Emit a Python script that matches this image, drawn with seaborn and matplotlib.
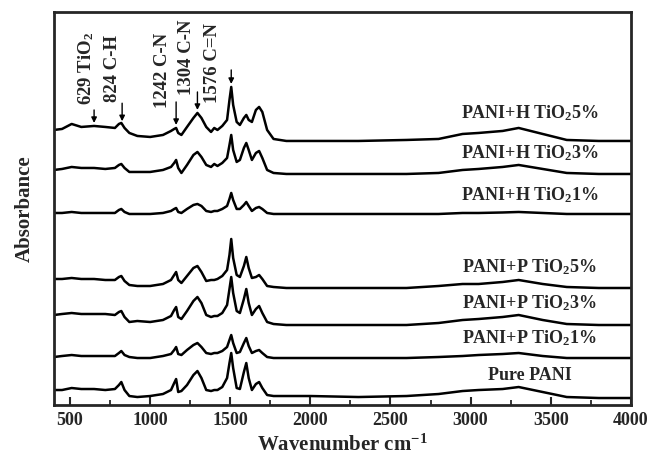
import numpy as np
import pandas as pd
import matplotlib
matplotlib.use("Agg")
import matplotlib.pyplot as plt
from matplotlib.ticker import MultipleLocator
import seaborn as sns

# wavenumber grid (cm-1)
wavenumber = [400, 450, 510, 570, 650, 720, 780, 805, 820, 840, 870, 920, 1000, 1080,
              1130, 1150, 1162, 1175, 1195, 1230, 1270, 1295, 1320, 1350, 1380, 1400,
              1420, 1450, 1480, 1495, 1506, 1518, 1540, 1560, 1585, 1600, 1615, 1635,
              1660, 1680, 1700, 1730, 1770, 1850, 2000, 2300, 2600, 2800, 2950, 3050,
              3200, 3300, 3450, 3600, 3800, 4000]

# absorbance of each sample above its own baseline (a.u. x100)
h_tio2_5 = [11, 12, 17, 14, 15, 14, 13, 17, 18, 13, 8, 5, 4, 6, 10, 12, 13, 8, 6, 14,
            23, 28, 23, 14, 9, 13, 11, 15, 21, 41, 54, 36, 19, 16, 23, 26, 21, 19, 31,
            34, 29, 11, 2, 0, 0, 0, 1, 2, 7, 8, 10, 13, 7, 1, 0, 0]
h_tio2_3 = [4, 5, 7, 6, 6, 5, 6, 9, 10, 6, 2, 2, 2, 4, 7, 11, 14, 6, 1, 9, 19, 22,
            17, 9, 7, 10, 8, 11, 16, 29, 39, 24, 12, 14, 26, 31, 24, 14, 21, 23, 16,
            4, 1, 0, 0, 0, 0, 1, 4, 5, 7, 9, 5, 1, 0, 0]
h_tio2_1 = [1, 1, 2, 1, 1, 1, 1, 4, 5, 2, 0, 0, 0, 1, 3, 5, 6, 2, 1, 5, 9, 10, 8, 3,
            2, 3, 3, 5, 8, 15, 21, 14, 5, 5, 9, 12, 8, 3, 6, 7, 5, 1, 0, 0, 0, 0, 0,
            0, 1, 1, 1.5, 2, 1, 0, 0, 0]
p_tio2_5 = [9, 9, 10, 9, 9, 8, 8, 11, 12, 7, 3, 2, 2, 4, 8, 13, 16, 8, 5, 12, 20, 22,
            16, 7, 8, 8, 9, 12, 18, 33, 49, 30, 13, 11, 22, 31, 20, 10, 11, 13, 9, 2,
            1, 0, 0, 0, 0, 2, 4, 4, 6, 8, 4, 1, 0, 0]
p_tio2_3 = [10, 11, 12, 11, 11, 11, 10, 13, 14, 8, 3, 4, 3, 5, 9, 15, 18, 8, 6, 14,
            24, 28, 22, 10, 8, 9, 9, 12, 20, 36, 48, 32, 14, 12, 26, 36, 22, 10, 16,
            19, 12, 3, 1, 0, 0, 0, 0, 2, 5, 6, 8, 10, 5, 1, 0, 0]
p_tio2_1 = [1, 2, 3, 2, 2, 2, 2, 5, 7, 3, 1, 0, 0, 2, 4, 8, 11, 4, 3, 8, 13, 15, 11,
            5, 4, 5, 5, 7, 11, 18, 23, 15, 5, 6, 15, 20, 12, 5, 7, 8, 5, 1, 0, 0, 0,
            0, 0, 1, 2, 3, 4, 5, 2, 0, 0, 0]
pure_pani = [8, 8, 10, 9, 9, 8, 9, 13, 16, 8, 2, 1, 2, 4, 8, 15, 19, 6, 7, 13, 23,
             27, 20, 8, 7, 8, 8, 11, 20, 35, 45, 30, 10, 9, 26, 35, 20, 8, 14, 16, 10,
             3, 2, 2, 2, 1, 2, 4, 7, 8, 9, 11, 6, 1, 0, 0]

series = [h_tio2_5, h_tio2_3, h_tio2_1, p_tio2_5, p_tio2_3, p_tio2_1, pure_pani]
names = ["PANI+H TiO$_2$5%", "PANI+H TiO$_2$3%", "PANI+H TiO$_2$1%",
         "PANI+P TiO$_2$5%", "PANI+P TiO$_2$3%", "PANI+P TiO$_2$1%", "Pure PANI"]
# vertical stacking offsets and label heights (a.u.)
offsets = [2.64, 2.31, 1.91, 1.17, 0.80, 0.47, 0.07]
label_y = [2.92, 2.52, 2.10, 1.38, 1.02, 0.67, 0.30]

# band assignments: text, arrow wavenumber, text x, text bottom
bands = ["629 TiO$_2$", "824 C-H", "1242 C-N", "1304 C-N", "1576 C=N"]
band_arrow_x = [650, 825, 1162, 1295, 1506]
band_text_x = [600, 762, 1075, 1225, 1388]
band_text_y = [3.00, 3.03, 2.97, 3.10, 3.02]
arrow_len = [0.13, 0.18, 0.23, 0.18, 0.14]

sns.set_style("ticks")
plt.rcParams["font.family"] = ["Liberation Serif", "DejaVu Serif"]
plt.rcParams["font.weight"] = "bold"
plt.rcParams["mathtext.fontset"] = "custom"
plt.rcParams["mathtext.rm"] = "Liberation Serif:bold"
plt.rcParams["mathtext.bf"] = "Liberation Serif:bold"
plt.rcParams["mathtext.it"] = "Liberation Serif:bold:italic"

fig = plt.figure(figsize=(6.51, 4.59), dpi=100)
ax = fig.add_axes([0.083, 0.1176, 0.886, 0.8564])

wn = np.array(wavenumber)
for vals, off, name, ly in zip(series, offsets, names, label_y):
    df = pd.DataFrame({"wn": wn, "A": np.array(vals) / 100.0 + off})
    sns.lineplot(data=df, x="wn", y="A", color="black", lw=1.8, ax=ax)
    ax.text(3369, ly, name, ha="center", va="center", fontsize=13, fontweight="bold")

top = np.array(h_tio2_5) / 100.0 + offsets[0]
for txt, axx, tx, ty, al in zip(bands, band_arrow_x, band_text_x, band_text_y, arrow_len):
    tip = np.interp(axx, wn, top) + 0.03
    ax.annotate("", xy=(axx, tip), xytext=(axx, tip + al),
                arrowprops=dict(arrowstyle="-|>", color="black", lw=1.0,
                                mutation_scale=8, shrinkA=0, shrinkB=0))
    ax.text(tx, ty, txt, rotation=90, ha="center", va="bottom", fontsize=13.5,
            fontweight="bold")

ax.set_xlim(400, 4000)
ax.set_ylim(0, 3.93)
ax.xaxis.set_major_locator(MultipleLocator(500))
ax.xaxis.set_minor_locator(MultipleLocator(250))
ax.set_yticks([])
ax.tick_params(axis="x", which="major", direction="in", length=6, width=1.5,
               labelsize=13, pad=5)
ax.tick_params(axis="x", which="minor", direction="in", length=3.5, width=1.3)
for lab in ax.get_xticklabels():
    lab.set_fontweight("bold")
for sp in ax.spines.values():
    sp.set_linewidth(2)
    sp.set_visible(True)

ax.set_xlabel("Wavenumber cm$^{-1}$", fontsize=15, fontweight="bold", labelpad=4)
ax.set_ylabel("Absorbance", fontsize=15, fontweight="bold", labelpad=14)

fig.savefig("out.png", dpi=100)
